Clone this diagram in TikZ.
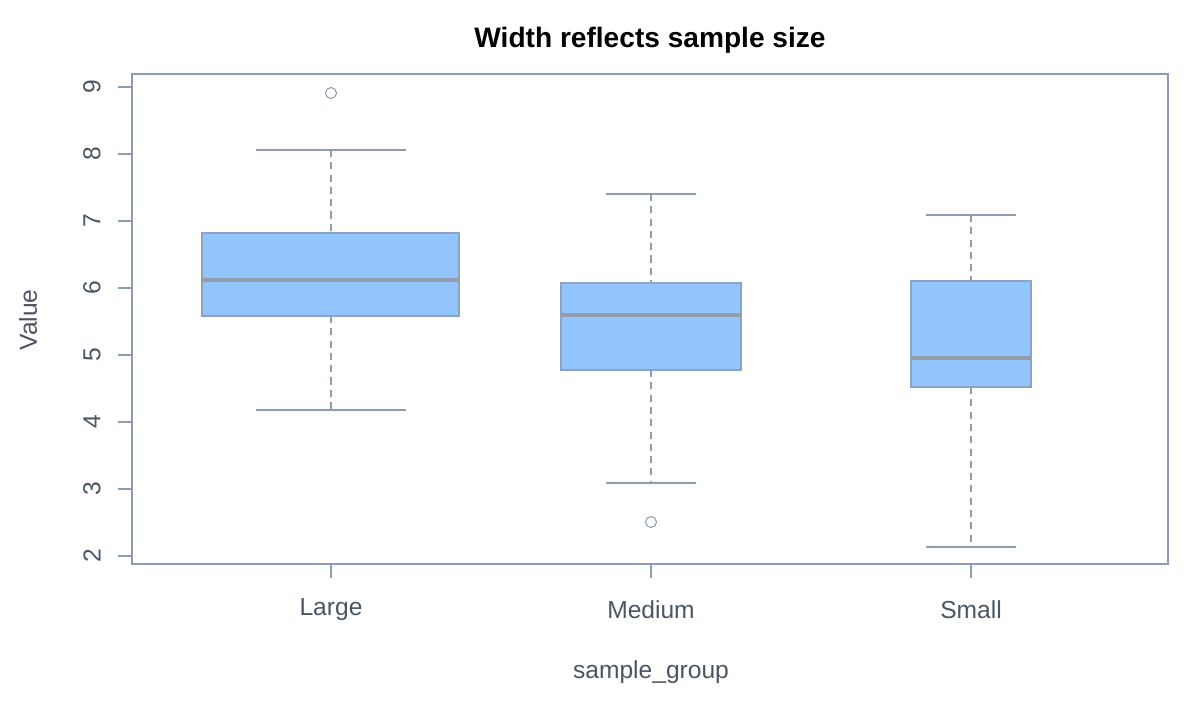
\documentclass[tikz,border=0pt]{standalone}
\usepackage{fontspec}
\setmainfont{Liberation Sans}
\begin{document}
\begin{tikzpicture}[x=0.02cm,y=-0.02cm,
  ax/.style={draw=axc,line width=0.7pt},
  box/.style={draw=boxb,fill=boxf,line width=0.6pt},
  med/.style={draw=medc,line width=2.4pt},
  wh/.style={draw=axc,line width=0.6pt,dash pattern=on 4pt off 3pt},
  wcap/.style={draw=axc,line width=0.6pt},
  lab/.style={text=txt,font=\fontsize{14}{16}\selectfont}]
\definecolor{axc}{HTML}{8E9BB3}
\definecolor{boxb}{HTML}{8CA3C4}
\definecolor{boxf}{HTML}{93C5FD}
\definecolor{medc}{HTML}{959CAB}
\definecolor{txt}{HTML}{4B5563}
\useasboundingbox (0,0) rectangle (1200,700);
\node[font=\bfseries\fontsize{16}{18}\selectfont] (title) at (650,40) {Width reflects sample size};
\draw[ax] (132,74) rectangle (1168,564);
% y axis
\foreach \v in {2,...,9}{
  \pgfmathsetmacro{\yy}{556-(\v-2)*67}
  \draw[ax] (118,\yy) -- (132,\yy);
  \node[lab,rotate=90] at (92,\yy) {\v};
}
\node[lab,rotate=90] (ylab) at (28,320) {Value};
% x axis
\foreach \x/\t in {331/Large,651/Medium,971/Small}{
  \draw[ax] (\x,564) -- (\x,578);
  \node[lab] at (\x,610) {\t};
}
\node[lab] (xlab) at (651,672) {sample\_group};
% Large
\draw[wh] (331,150) -- (331,233); \draw[wh] (331,316) -- (331,410);
\draw[wcap] (256,150) -- (406,150); \draw[wcap] (256,410) -- (406,410);
\draw[box] (202,233) rectangle (459,316);
\draw[med] (202,280) -- (459,280);
\draw[wcap] (331,93) circle (5.5);
% Medium
\draw[wh] (651,194) -- (651,283); \draw[wh] (651,370) -- (651,483);
\draw[wcap] (606,194) -- (696,194); \draw[wcap] (606,483) -- (696,483);
\draw[box] (561,283) rectangle (741,370);
\draw[med] (561,315) -- (741,315);
\draw[wcap] (651,522) circle (5.5);
% Small
\draw[wh] (971,215) -- (971,281); \draw[wh] (971,387) -- (971,547);
\draw[wcap] (926,215) -- (1016,215); \draw[wcap] (926,547) -- (1016,547);
\draw[box] (911,281) rectangle (1031,387);
\draw[med] (911,358) -- (1031,358);
\end{tikzpicture}
\end{document}
